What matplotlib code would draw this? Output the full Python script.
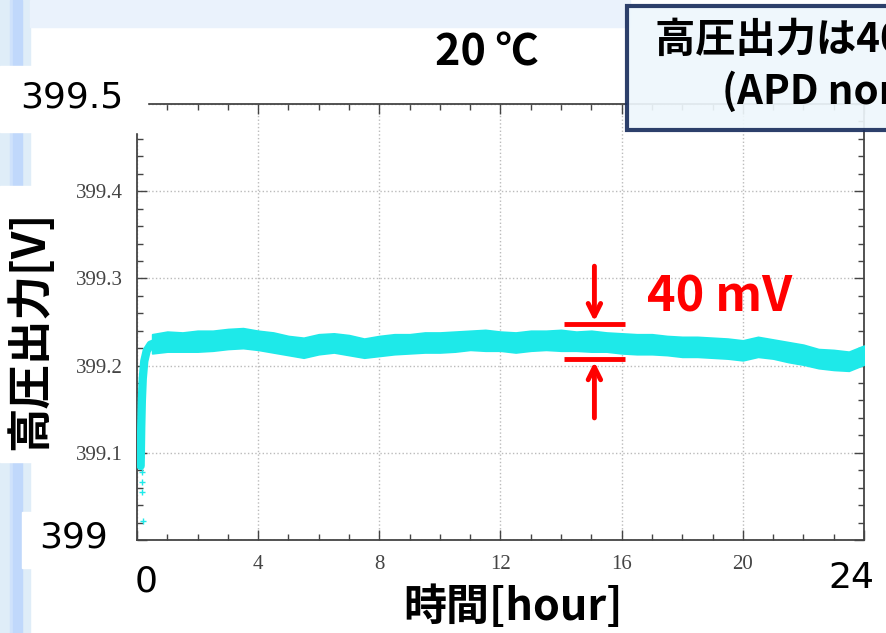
import numpy as np
import matplotlib
matplotlib.use("Agg")
import matplotlib.pyplot as plt
from matplotlib.patches import Rectangle

# drift test of the HV supply at 20 C (hours vs. volts)
rise_t = [0.12, 0.14, 0.16, 0.19, 0.24, 0.32, 0.45, 0.60]
rise_v = [399.085, 399.13, 399.16, 399.185, 399.205, 399.217, 399.224, 399.226]
sparse_t = [0.19, 0.17, 0.17, 0.15, 0.14, 0.14, 0.13]
sparse_v = [399.022, 399.055, 399.067, 399.078, 399.095, 399.11, 399.125]

band_t = [0.5, 1.0, 1.5, 2.0, 2.5, 3.0, 3.5, 4.0, 4.5, 5.0, 5.5, 6.0,
          6.5, 7.0, 7.5, 8.0, 8.5, 9.0, 9.5, 10.0, 10.5, 11.0, 11.5, 12.0,
          12.5, 13.0, 13.5, 14.0, 14.5, 15.0, 15.5, 16.0, 16.5, 17.0, 17.5, 18.0,
          18.5, 19.0, 19.5, 20.0, 20.5, 21.0, 21.5, 22.0, 22.5, 23.0, 23.5, 24.0]
band_hi = [399.236, 399.239, 399.238, 399.240, 399.240, 399.242, 399.243, 399.240, 399.238, 399.234, 399.232, 399.236,
           399.237, 399.235, 399.231, 399.234, 399.236, 399.236, 399.238, 399.238, 399.239, 399.240, 399.241, 399.239,
           399.238, 399.240, 399.240, 399.241, 399.239, 399.240, 399.238, 399.237, 399.236, 399.236, 399.234, 399.233,
           399.233, 399.232, 399.231, 399.229, 399.233, 399.230, 399.227, 399.224, 399.219, 399.218, 399.216, 399.223]
band_lo = [399.214, 399.216, 399.216, 399.216, 399.217, 399.219, 399.220, 399.218, 399.215, 399.212, 399.209, 399.213,
           399.215, 399.212, 399.209, 399.211, 399.213, 399.214, 399.215, 399.215, 399.216, 399.218, 399.217, 399.217,
           399.215, 399.217, 399.218, 399.217, 399.217, 399.216, 399.216, 399.214, 399.213, 399.213, 399.212, 399.210,
           399.210, 399.209, 399.208, 399.206, 399.210, 399.208, 399.204, 399.201, 399.197, 399.195, 399.194, 399.201]

x_ticks = [0, 4, 8, 12, 16, 20, 24]
y_ticks = [399.0, 399.1, 399.2, 399.3, 399.4, 399.5]
span_mv = 40
span_mid = 399.2275

W, H = 887, 633
CJK = ["Noto Sans CJK JP", "DejaVu Sans"]
CYAN = "#1ee9e9"
RED = "#ff0000"


def fx(x):
    return x / W


def fy(y):
    return 1 - y / H


fig = plt.figure(figsize=(W / 100, H / 100), dpi=100)

# slide background: pale strip with stripes on the left, pale band on top
fig.add_artist(Rectangle((0, 0), fx(30), 1, transform=fig.transFigure, color="#dfedf8", zorder=-5))
fig.add_artist(Rectangle((fx(10), 0), fx(2), 1, transform=fig.transFigure, color="#cfe2fb", zorder=-4))
fig.add_artist(Rectangle((fx(13), 0), fx(9), 1, transform=fig.transFigure, color="#c0d8fb", zorder=-4))
fig.add_artist(Rectangle((fx(30), fy(27)), fx(600), 27 / H, transform=fig.transFigure, color="#eaf2fc", zorder=-5))

ax = fig.add_axes([fx(137), fy(540), fx(864) - fx(137), (540 - 104) / H])

ax.fill_between(band_t, band_lo, band_hi, color=CYAN, lw=1.2, edgecolor=CYAN, zorder=3)
ax.plot(rise_t, rise_v, color=CYAN, lw=6, solid_capstyle="round", zorder=3)
ax.plot(sparse_t, sparse_v, "+", color=CYAN, ms=5, mew=1, zorder=3)

ax.set_xlim(0, 24)
ax.set_ylim(399.0, 399.5)
ax.set_xticks(x_ticks)
ax.set_xticklabels([""] + [str(t) for t in x_ticks[1:-1]] + [""])
ax.set_yticks(y_ticks)
ax.set_yticklabels([""] + [f"{v:.1f}" for v in y_ticks[1:-1]] + [""])
ax.set_xticks(np.arange(0, 25, 1), minor=True)
ax.set_yticks(np.arange(399.0, 399.5, 0.02), minor=True)
ax.tick_params(which="both", direction="in", top=True, right=True, colors="#444444",
               labelsize=15, width=1)
ax.tick_params(which="major", length=7)
ax.tick_params(which="minor", length=4)
ax.tick_params(axis="x", pad=11)
ax.tick_params(axis="y", pad=10)
for lab in ax.get_xticklabels() + ax.get_yticklabels():
    lab.set_fontfamily("Liberation Serif")
for sp in ax.spines.values():
    sp.set_color("#444444")
    sp.set_linewidth(1.3)
ax.grid(True, which="major", linestyle=":", color="#bbbbbb", lw=1)

# red span marker
t0, t1, tc = 14.1, 16.1, 15.1
lo_line = span_mid - span_mv / 2000
hi_line = span_mid + span_mv / 2000
ax.hlines([lo_line, hi_line], t0, t1, color=RED, lw=3.5, zorder=5)
arrow = dict(arrowstyle="->,head_length=0.9,head_width=0.45", color=RED, lw=3.5, shrinkA=0, shrinkB=2)
ax.annotate("", xy=(tc, hi_line), xytext=(tc, 399.314), arrowprops=arrow, zorder=5)
ax.annotate("", xy=(tc, lo_line), xytext=(tc, 399.140), arrowprops=arrow, zorder=5)
ax.text(16.85, 399.279, f"{span_mv} mV", color=RED, fontsize=35, fontweight="bold",
        family=CJK, ha="left", va="center", zorder=5)

# overlaid labels on white boxes
fig.add_artist(Rectangle((0, fy(132)), fx(147), (132 - 66) / H, transform=fig.transFigure,
                         color="white", zorder=4))
fig.add_artist(Rectangle((0, fy(462)), fx(62), (462 - 186) / H, transform=fig.transFigure,
                         color="white", zorder=4))
fig.add_artist(Rectangle((fx(22), fy(568)), fx(95), (568 - 512) / H, transform=fig.transFigure,
                         color="white", zorder=4))
big = dict(fontsize=26, family="DejaVu Sans", color="black", ha="center", va="center", zorder=6)
fig.text(fx(72), fy(97), "399.5", **big)
fig.text(fx(74), fy(538), "399", **big)
fig.text(fx(146), fy(581), "0", **big)
fig.text(fx(851), fy(578), "24", **big)

fig.text(fx(30), fy(330), "高圧出力[V]", rotation=90, fontsize=32, fontweight="bold",
         family=CJK, ha="center", va="center", zorder=6)
fig.text(fx(513), fy(607), "時間[hour]", fontsize=31, fontweight="bold",
         family=CJK, ha="center", va="center", zorder=6)
fig.text(fx(487), fy(52), "20 ℃", fontsize=31, fontweight="bold",
         family=CJK, ha="center", va="center", zorder=6)

# note box in the top right corner, running off the slide edge
fig.add_artist(Rectangle((fx(627), fy(130)), fx(300), (130 - 6) / H, transform=fig.transFigure,
                         facecolor="#eef7fc", edgecolor="#1b2f5e", lw=3, alpha=0.92, zorder=7))
fig.text(fx(655), fy(40), "高圧出力は400 V", fontsize=29, fontweight="bold",
         family=CJK, ha="left", va="center", zorder=8)
fig.text(fx(722), fy(92), "(APD non-gain)", fontsize=29, fontweight="bold",
         family=CJK, ha="left", va="center", zorder=8)

fig.savefig("out.png", dpi=100)
